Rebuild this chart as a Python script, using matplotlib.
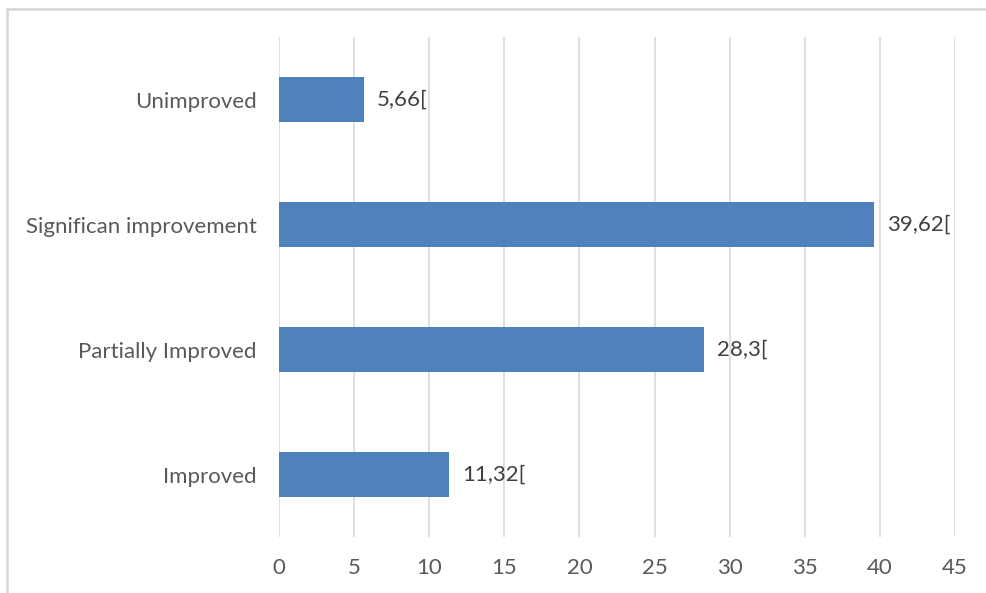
import matplotlib
matplotlib.use("Agg")
import matplotlib.pyplot as plt
from matplotlib.patches import Rectangle

categories = ["Improved", "Partially Improved", "Significan improvement", "Unimproved"]
values = [11.32, 28.3, 39.62, 5.66]
labels = ["11,32[", "28,3[", "39,62[", "5,66["]
ticks = [0, 5, 10, 15, 20, 25, 30, 35, 40, 45]

plt.rcParams['font.family'] = ['Lato', 'DejaVu Sans']

fig = plt.figure(figsize=(9.86, 5.93), dpi=100)
ax = fig.add_axes([0.283, 0.0944, 0.6856, 0.8432])

# outer chart frame (Excel style), cut at right/bottom like the screenshot
fig.patches.append(Rectangle((7 / 986, -0.1), 1.2, 1 - 9 / 593 + 0.1,
                             transform=fig.transFigure, fill=False,
                             edgecolor='#D9D9D9', linewidth=2))

y = range(len(categories))
ax.barh(y, values, height=0.36, color='#4F81BD', zorder=3)
for i, (v, t) in enumerate(zip(values, labels)):
    ax.text(v + 0.85, i, t, va='center', ha='left', fontsize=16, color='#404040')

ax.set_xlim(0, 45)
ax.set_ylim(-0.5, 3.5)
ax.set_xticks(ticks)
ax.set_xticklabels([str(t) for t in ticks])
ax.set_yticks(list(y))
ax.set_yticklabels(categories)
ax.tick_params(axis='both', length=0, labelsize=16, labelcolor='#595959')
ax.tick_params(axis='x', pad=15)
ax.tick_params(axis='y', pad=16)
ax.grid(axis='x', color='#D9D9D9', linewidth=1.2, zorder=0)
for s in ax.spines.values():
    s.set_visible(False)

fig.savefig("out.png", dpi=100)
